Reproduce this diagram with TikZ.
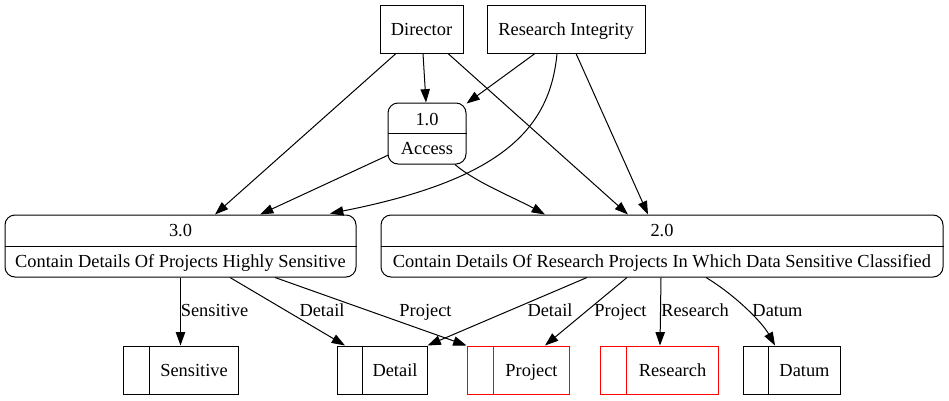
\documentclass[tikz,border=0pt]{standalone}
\usepackage{fontspec}
\setmainfont{Liberation Serif}
\usetikzlibrary{arrows.meta,calc}
\begin{document}
\begin{tikzpicture}[x=0.75pt,y=-0.75pt,
  every node/.style={font=\fontsize{13.8}{16}\selectfont, inner sep=0pt},
  txt/.style={text height=10.5pt, text depth=1.3pt},
  ent/.style={draw, line width=0.75pt, rectangle},
  proc/.style={draw, line width=0.75pt, rectangle, rounded corners=7.5pt},
  store/.style={draw, line width=0.75pt, rectangle, minimum height=36pt},
  redstore/.style={store, draw=red},
  flow/.style={line width=0.75pt, -{Triangle[length=10pt,width=7pt]}}]
\useasboundingbox (0,0) rectangle (949,400);

% externals
\node[ent, txt, minimum width=62.25pt, minimum height=36pt] (dir) at (421.5,29) {Director};
\node[ent, txt, minimum width=118.5pt, minimum height=36pt] (ri) at (566,29) {Research Integrity};

% processes
\node[proc, minimum width=58.5pt, minimum height=45.75pt] (p1) at (427,133.5) {};
\draw[line width=0.75pt] (p1.west) -- (p1.east);
\node[txt] (p1a) at (427,119) {1.0};
\node[txt] (p1b) at (427,148.5) {Access};

\node[proc, minimum width=263.25pt, minimum height=46.5pt] (p3) at (180.5,246) {};
\draw[line width=0.75pt] (p3.west) -- (p3.east);
\node[txt] (p3a) at (180.5,230) {3.0};
\node[txt] (p3b) at (180.5,261) {Contain Details Of Projects Highly Sensitive};

\node[proc, minimum width=421.5pt, minimum height=46.5pt] (p2) at (662,246) {};
\draw[line width=0.75pt] (p2.west) -- (p2.east);
\node[txt] (p2a) at (662,230) {2.0};
\node[txt] (p2b) at (662,261) {Contain Details Of Research Projects In Which Data Sensitive Classified};

% stores
\node[store, minimum width=86.25pt] (sS) at (180.5,370) {};
\draw[line width=0.75pt] ($(sS.north west)+(27,0)$) -- ($(sS.south west)+(27,0)$);
\node[txt] (sSt) at (194,370) {Sensitive};

\node[store, minimum width=67.5pt] (sD) at (382,370) {};
\draw[line width=0.75pt] ($(sD.north west)+(26,0)$) -- ($(sD.south west)+(26,0)$);
\node[txt] (sDt) at (395,370) {Detail};

\node[redstore, minimum width=76.5pt] (sP) at (518,370) {};
\draw[line width=0.75pt, red] ($(sP.north west)+(27,0)$) -- ($(sP.south west)+(27,0)$);
\node[txt] (sPt) at (531.5,370) {Project};

\node[redstore, minimum width=88.5pt] (sR) at (659,370) {};
\draw[line width=0.75pt, red] ($(sR.north west)+(27,0)$) -- ($(sR.south west)+(27,0)$);
\node[txt] (sRt) at (672.5,370) {Research};

\node[store, minimum width=72.75pt] (sT) at (791.5,370) {};
\draw[line width=0.75pt] ($(sT.north west)+(26,0)$) -- ($(sT.south west)+(26,0)$);
\node[txt] (sTt) at (804.5,370) {Datum};

% flows from externals
\draw[flow] ($(dir.south)+(1.5,0)$) -- ($(p1.north)+(-1,0)$);
\draw[flow] ($(dir.south)+(-25.5,0)$) -- ($(p3.north)+(34.5,0)$);
\draw[flow] ($(dir.south)+(26.5,0)$) -- ($(p2.north)+(-34,0)$);
\draw[flow] ($(ri.south)+(-31,0)$) -- ($(p1.north east)+(0,1)$);
\draw[flow] ($(ri.south)+(-9,0)$) .. controls (550,130) and (500,180) .. ($(p3.north)+(149.5,-1)$);
\draw[flow] ($(ri.south)+(10,0)$) -- ($(p2.north)+(-14,0)$);

% flows from 1.0
\draw[flow] ($(p1.west)+(1,21.5)$) -- ($(p3.north)+(79.5,0)$);
\draw[flow] ($(p1.south)+(28,0)$) .. controls (475,182) and (515,198) .. ($(p2.north)+(-117,0)$);

% flows from 3.0
\draw[flow] (p3.south) -- (sS.north);
\node[txt] (l0) at (214.5,310) {Sensitive};
\draw[flow] ($(p3.south)+(49.5,0)$) -- ($(sD.north)+(-37,0)$);
\node[txt] (l1) at (322,310) {Detail};
\draw[flow] ($(p3.south)+(94.5,0)$) -- (sP.north west);
\node[txt] (l2) at (425.5,310) {Project};

% flows from 2.0
\draw[flow] ($(p2.south)+(-75,0)$) -- (sD.north east);
\node[txt] (l3) at (550,310) {Detail};
\draw[flow] ($(p2.south)+(-35,0)$) -- ($(sP.north)+(27,0)$);
\node[txt] (l4) at (620.5,310) {Project};
\draw[flow] ($(p2.south)+(-1,0)$) -- ($(sR.north)+(1,0)$);
\node[txt] (l5) at (695,310) {Research};
\draw[flow] ($(p2.south)+(44,0)$) .. controls (735,295) and (762,322) .. ($(sT.north)+(-16.5,0)$);
\node[txt] (l6) at (777.5,310) {Datum};
\end{tikzpicture}
\end{document}
